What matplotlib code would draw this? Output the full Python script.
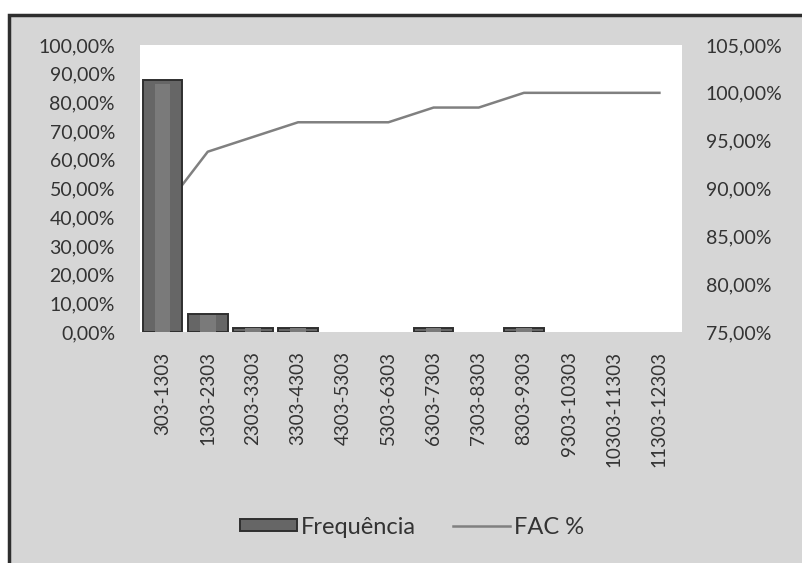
import matplotlib.pyplot as plt
from matplotlib.patches import Rectangle
from matplotlib.ticker import FuncFormatter

# classes de valores e contagens
classes = ['303-1303', '1303-2303', '2303-3303', '3303-4303', '4303-5303',
           '5303-6303', '6303-7303', '7303-8303', '8303-9303', '9303-10303',
           '10303-11303', '11303-12303']
contagem = [57, 4, 1, 1, 0, 0, 1, 0, 1, 0, 0, 0]

total = sum(contagem)
freq = [100.0 * c / total for c in contagem]
fac = []
acum = 0
for c in contagem:
    acum += c
    fac.append(100.0 * acum / total)

plt.rcParams['font.family'] = ['Lato', 'DejaVu Sans']

fig = plt.figure(figsize=(8.02, 5.63), dpi=100)
fig.patch.set_facecolor('white')
# moldura cinza do grafico
fig.patches.append(Rectangle((9 / 802, -0.01), 1, 1.01 - 15 / 563, transform=fig.transFigure,
                             facecolor='#d6d6d6', edgecolor='#2e2e2e', linewidth=2.5,
                             zorder=-5))

ax = fig.add_axes([140 / 802, 1 - 332 / 563, 542 / 802, 287 / 563])
ax.set_facecolor('white')
x = list(range(len(classes)))

# linha FAC % no eixo direito (desenhada por baixo das barras)
linha, = ax.plot(x, fac, color='#808080', linewidth=1.8, label='FAC %')
ax.set_ylim(75, 105)
ax.set_yticks([75, 80, 85, 90, 95, 100, 105])

ax2 = ax.twinx()
bordas = ['#2f2f2f' if f > 0 else 'none' for f in freq]
barras = ax2.bar(x, freq, width=0.88, color='#666666', edgecolor=bordas,
                 linewidth=1.4, label='Frequência')
# brilho no meio de cada barra
ax2.bar(x, [f * 0.985 for f in freq], width=0.35, color='#7a7a7a', linewidth=0)
ax2.set_ylim(0, 100)
ax2.set_yticks(range(0, 101, 10))
ax.yaxis.tick_right()
ax2.yaxis.tick_left()

pct = FuncFormatter(lambda v, p: f'{v:.2f}%'.replace('.', ','))
for a in (ax, ax2):
    a.yaxis.set_major_formatter(pct)
    for s in a.spines.values():
        s.set_visible(False)
    a.tick_params(axis='y', length=0, labelsize=14, labelcolor='#333333')
ax2.tick_params(axis='y', pad=18)
ax.tick_params(axis='y', pad=17)

ax.set_xlim(-0.5, len(classes) - 0.5)
ax.set_xticks(x)
ax.set_xticklabels(classes, rotation=90, fontsize=13.5, color='#333333')
ax.tick_params(axis='x', length=0, pad=14)

fig.legend([barras, linha], ['Frequência', 'FAC %'], loc='center',
           bbox_to_anchor=(412 / 802, 1 - 527 / 563), ncol=2, frameon=False,
           fontsize=17, handlelength=2.4, handleheight=0.4, columnspacing=1.6,
           handletextpad=0.15, labelcolor='#333333')

fig.savefig('out.png', dpi=100)
